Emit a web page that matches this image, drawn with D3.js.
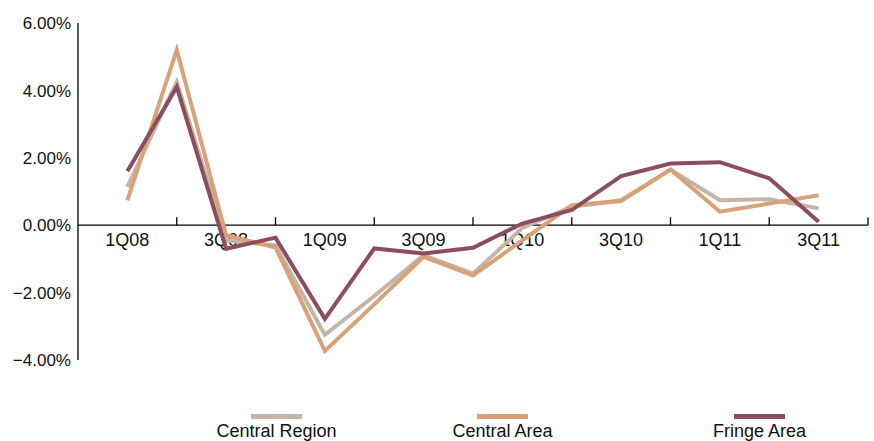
<!DOCTYPE html>
<html>
<head>
<meta charset="utf-8">
<script src="https://cdn.jsdelivr.net/npm/d3@7"></script>
<style>
  html, body { margin: 0; padding: 0; background: #fff; }
  svg { display: block; font-family: Arial, "Liberation Sans", sans-serif; }
</style>
</head>
<body>
<svg id="chart" width="874" height="441"></svg>
<script>
// Quarterly change, 1Q08 – 3Q11
const quarters = ["1Q08","2Q08","3Q08","4Q08","1Q09","2Q09","3Q09","4Q09",
                  "1Q10","2Q10","3Q10","4Q10","1Q11","2Q11","3Q11"];
const centralRegion = [1.14, 4.25, -0.45, -0.60, -3.25, -2.10, -0.89, -1.44,
                       -0.08, 0.55, 0.74, 1.65, 0.74, 0.77, 0.50];
const centralArea   = [0.74, 5.20, -0.30, -0.66, -3.73, -2.35, -0.94, -1.49,
                       -0.45, 0.59, 0.72, 1.65, 0.40, 0.64, 0.89];
const fringeArea    = [1.60, 4.10, -0.70, -0.37, -2.78, -0.69, -0.84, -0.67,
                       0.05, 0.45, 1.46, 1.83, 1.87, 1.39, 0.10];
const yTicks = [-4, -2, 0, 2, 4, 6];
const seriesNames = ["Central Region", "Central Area", "Fringe Area"];
const seriesColors = ["#c4b5a7", "#d9a17a", "#8c4e5e"];

const series = [centralRegion, centralArea, fringeArea].map((values, k) => ({
  name: seriesNames[k], color: seriesColors[k], values
}));

const svg = d3.select("#chart");
const plotLeft = 78, plotRight = 868, plotTop = 23, plotBottom = 360;

// Slot -1 is an empty lead-in slot; the last slot (15) ends the axis.
const x = d3.scaleLinear().domain([-1, quarters.length]).range([plotLeft, plotRight]);
const y = d3.scaleLinear().domain([-4, 6]).range([plotBottom, plotTop]);

// Y axis line and percentage labels
svg.append("line")
  .attr("x1", plotLeft).attr("x2", plotLeft)
  .attr("y1", y(6)).attr("y2", y(-4))
  .attr("stroke", "#000").attr("stroke-width", 1.3);

svg.append("g").selectAll("text")
  .data(yTicks).join("text")
  .attr("x", plotLeft - 7)
  .attr("y", d => y(d))
  .attr("dy", "0.36em")
  .attr("text-anchor", "end")
  .attr("font-size", 17)
  .attr("fill", "#111")
  .text(d => d3.format(".2f")(d) + "%");

// X axis at zero with upward ticks between label pairs
const xAxis = svg.append("g");
xAxis.append("line")
  .attr("x1", plotLeft).attr("x2", plotRight)
  .attr("y1", y(0)).attr("y2", y(0))
  .attr("stroke", "#000").attr("stroke-width", 1.3);

const tickIdx = d3.range(1, quarters.length + 1, 2);
xAxis.selectAll("line.tick")
  .data(tickIdx).join("line")
  .attr("class", "tick")
  .attr("x1", d => x(d)).attr("x2", d => x(d))
  .attr("y1", y(0)).attr("y2", y(0) - 8)
  .attr("stroke", "#000").attr("stroke-width", 1.3);

xAxis.selectAll("text")
  .data(quarters.filter((q, i) => i % 2 === 0)).join("text")
  .attr("x", d => x(quarters.indexOf(d)))
  .attr("y", y(0) + 21)
  .attr("text-anchor", "middle")
  .attr("font-size", 18)
  .attr("fill", "#111")
  .text(d => d);

// Series lines
const line = d3.line()
  .x((d, i) => x(i))
  .y(d => y(d));

svg.append("g").selectAll("path")
  .data(series).join("path")
  .attr("d", s => line(s.values))
  .attr("fill", "none")
  .attr("stroke", s => s.color)
  .attr("stroke-width", 4)
  .attr("stroke-linejoin", "miter");

// Legend
const legendX = [276.5, 502.5, 759.5];
const legend = svg.append("g").selectAll("g")
  .data(series).join("g")
  .attr("transform", (s, i) => `translate(${legendX[i]},0)`);

legend.append("rect")
  .attr("x", -25.5).attr("y", 414)
  .attr("width", 51).attr("height", 5)
  .attr("fill", s => s.color);

legend.append("text")
  .attr("x", 0).attr("y", 437)
  .attr("text-anchor", "middle")
  .attr("font-size", 18)
  .attr("fill", "#111")
  .text(s => s.name);
</script>
</body>
</html>
